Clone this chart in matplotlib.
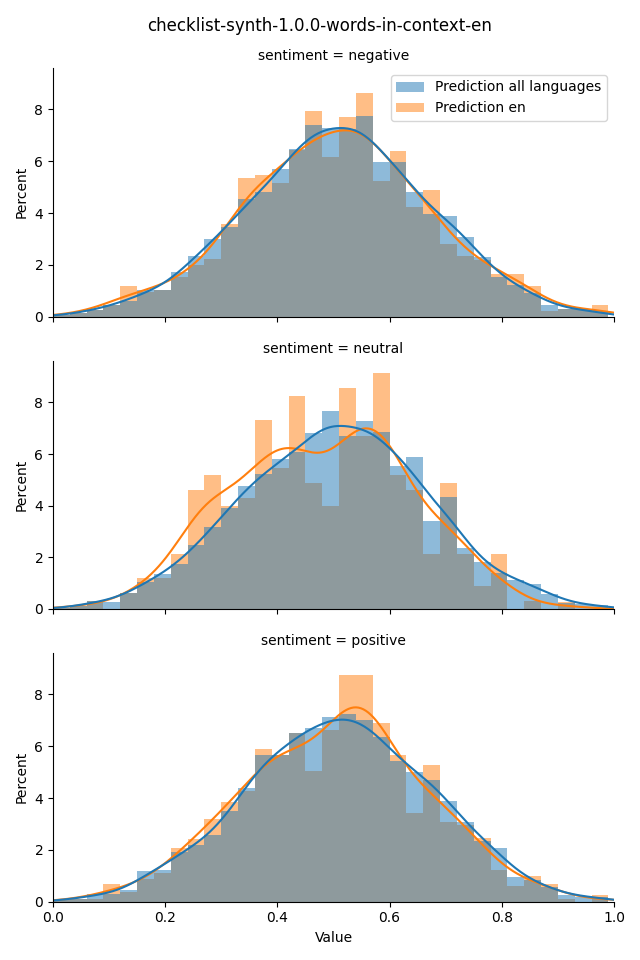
import numpy as np
import matplotlib
matplotlib.use("Agg")
import matplotlib.pyplot as plt

# ---- data (percent per bin, bins of width 0.03 from 0.00 to 0.99) ----
bin_edges = np.round(np.arange(0, 34) * 0.03, 4)
panels = ["negative", "neutral", "positive"]
series_names = ["Prediction all languages", "Prediction en"]

neg_all = [0.06, 0.15, 0.26, 0.45, 0.61, 1.02, 1.02, 1.72, 2.33, 2.98, 3.46, 4.53, 4.80,
           5.72, 6.48, 7.41, 7.30, 7.25, 7.75, 5.98, 5.98, 4.83, 3.98, 3.87, 3.06, 2.32,
           1.52, 1.22, 0.92, 0.47, 0.28, 0.28, 0.19]
neg_en = [0.06, 0.15, 0.26, 0.45, 1.18, 0.95, 1.02, 1.54, 2.00, 2.21, 3.58, 5.36, 5.48,
          5.15, 6.43, 7.94, 6.18, 7.71, 8.63, 5.25, 6.40, 4.23, 4.90, 2.82, 2.34, 2.20,
          1.63, 1.63, 1.18, 0.23, 0.30, 0.28, 0.45]
neu_all = [0.04, 0.10, 0.32, 0.27, 0.62, 1.04, 1.35, 1.75, 2.47, 3.16, 3.90, 4.78, 5.21,
           5.79, 6.06, 6.80, 7.68, 6.71, 7.29, 6.84, 5.52, 5.90, 3.40, 4.32, 2.35, 1.81,
           1.40, 1.12, 0.95, 0.60, 0.22, 0.18, 0.15]
neu_en = [0.04, 0.10, 0.32, 0.00, 0.62, 1.20, 1.20, 2.12, 4.59, 5.17, 3.97, 4.30, 7.33,
          5.47, 8.26, 4.86, 3.99, 8.57, 6.71, 9.14, 5.17, 4.59, 2.14, 4.86, 2.14, 0.89,
          2.12, 0.00, 0.31, 0.00, 0.28, 0.00, 0.00]
pos_all = [0.06, 0.12, 0.28, 0.30, 0.45, 1.18, 1.24, 1.91, 2.19, 2.56, 3.50, 4.40, 5.67,
           5.67, 6.53, 6.72, 7.12, 7.25, 7.00, 6.35, 5.44, 5.02, 4.70, 3.87, 3.06, 2.33,
           2.06, 0.97, 0.83, 0.55, 0.24, 0.19, 0.19]
pos_en = [0.06, 0.12, 0.12, 0.70, 0.38, 0.88, 1.10, 2.09, 2.43, 3.21, 3.83, 4.29, 5.90,
          5.67, 6.53, 5.06, 6.63, 8.74, 8.74, 6.90, 5.67, 3.44, 5.29, 3.06, 2.97, 2.45,
          1.22, 0.60, 0.99, 0.70, 0.10, 0.00, 0.26]

data = {
    "negative": (neg_all, neg_en),
    "neutral": (neu_all, neu_en),
    "positive": (pos_all, pos_en),
}

colors = ["#1f77b4", "#ff7f0e"]
kde_bw = [0.035, 0.045]

fig = plt.figure(figsize=(6.4, 9.6), dpi=100)
fig.suptitle("checklist-synth-1.0.0-words-in-context-en", y=0.982, fontsize=12)

left, width = 53 / 640, (614 - 53) / 640
tops = [68, 361, 653]
bottoms = [316.7, 609, 901.7]

centers = (bin_edges[:-1] + bin_edges[1:]) / 2
widths = np.diff(bin_edges)
grid = np.linspace(-0.15, 1.15, 600)

axes = []
for i, name in enumerate(panels):
    b = 1 - bottoms[i] / 960
    h = (bottoms[i] - tops[i]) / 960
    ax = fig.add_axes([left, b, width, h], sharex=axes[0] if axes else None,
                      sharey=axes[0] if axes else None)
    axes.append(ax)
    handles = {}
    # draw "en" first so that "all languages" lies on top (as seaborn hue order does)
    for s in (1, 0):
        vals = np.asarray(data[name][s], dtype=float)
        handles[s] = ax.bar(centers, vals, width=widths, color=colors[s], alpha=0.5,
                            linewidth=0, label=series_names[s])
    for s in (1, 0):
        vals = np.asarray(data[name][s], dtype=float)
        bw = kde_bw[s]
        dens = (vals[:, None] * widths[:, None] *
                np.exp(-0.5 * ((grid[None, :] - centers[:, None]) / bw) ** 2) /
                (bw * np.sqrt(2 * np.pi))).sum(axis=0)
        ax.plot(grid, dens, color=colors[s], linewidth=1.5)
    ax.set_title(f"sentiment = {name}", fontsize=10)
    ax.set_ylabel("Percent")
    ax.spines["top"].set_visible(False)
    ax.spines["right"].set_visible(False)
    if i < 2:
        ax.tick_params(labelbottom=False)
    if i == 0:
        ax.legend([handles[0], handles[1]], series_names, loc="upper right")

axes[0].set_xlim(0, 1)
axes[0].set_ylim(0, 9.6)
axes[0].set_yticks([0, 2, 4, 6, 8])
axes[2].set_xlabel("Value")

fig.savefig("out.png", dpi=100)
